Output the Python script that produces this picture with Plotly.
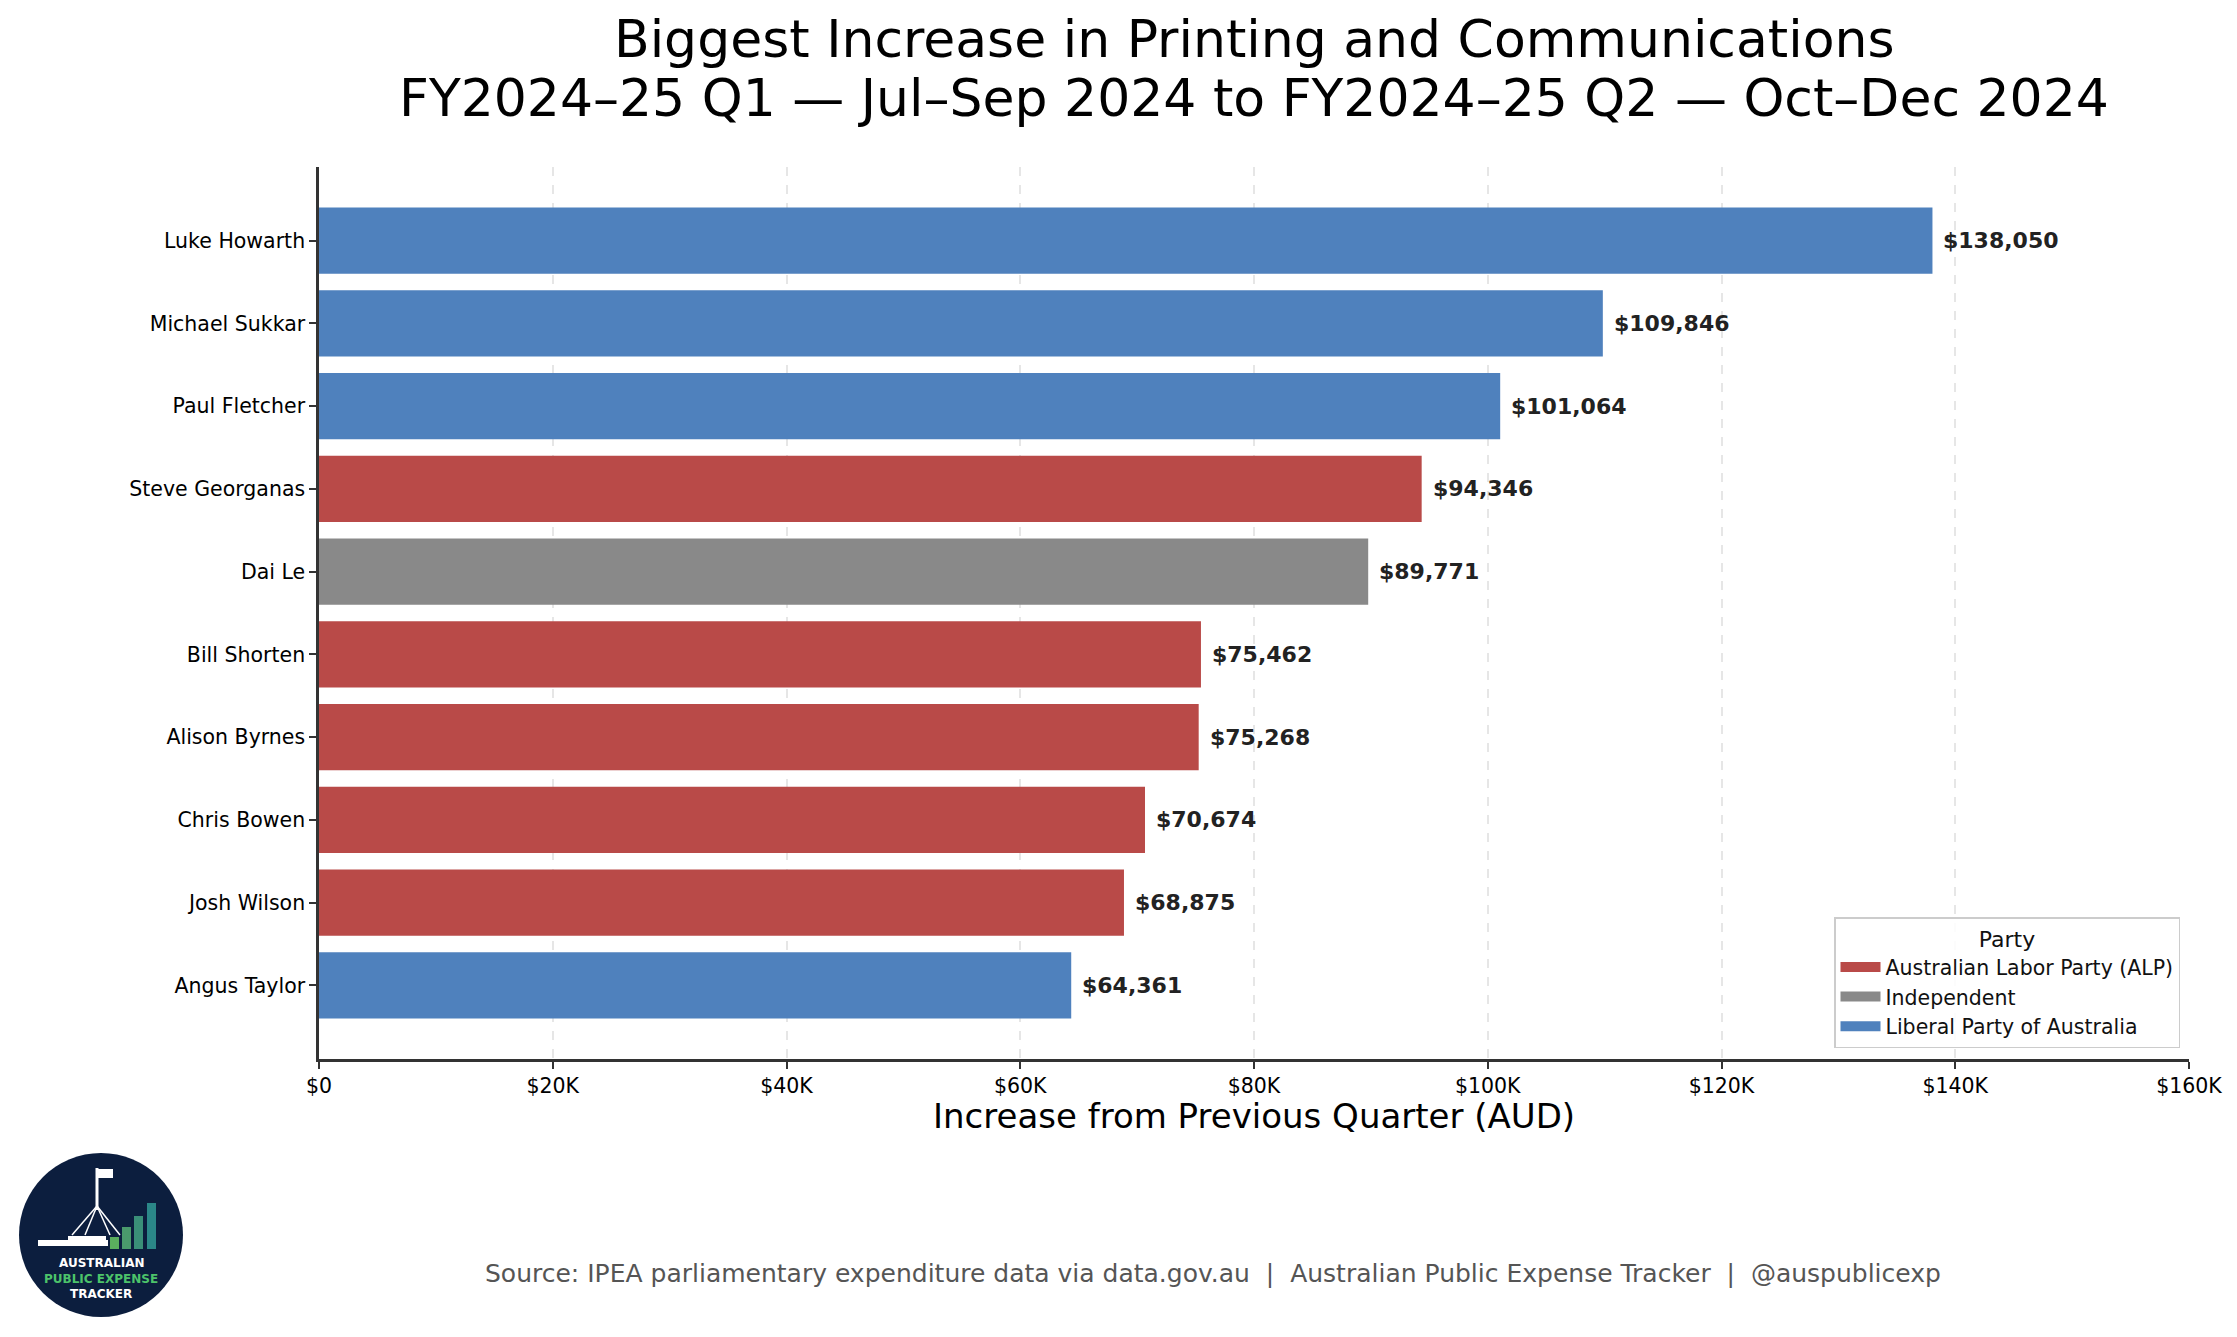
import plotly.graph_objects as go

# data
members = ["Luke Howarth", "Michael Sukkar", "Paul Fletcher", "Steve Georganas", "Dai Le",
           "Bill Shorten", "Alison Byrnes", "Chris Bowen", "Josh Wilson", "Angus Taylor"]
increases = [138050, 109846, 101064, 94346, 89771, 75462, 75268, 70674, 68875, 64361]
parties = ["Liberal Party of Australia", "Liberal Party of Australia", "Liberal Party of Australia",
           "Australian Labor Party (ALP)", "Independent", "Australian Labor Party (ALP)",
           "Australian Labor Party (ALP)", "Australian Labor Party (ALP)",
           "Australian Labor Party (ALP)", "Liberal Party of Australia"]
party_order = ["Australian Labor Party (ALP)", "Independent", "Liberal Party of Australia"]
party_colors = {"Australian Labor Party (ALP)": "#b94a48",
                "Independent": "#898989",
                "Liberal Party of Australia": "#4f81bd"}
tick_vals = [0, 20000, 40000, 60000, 80000, 100000, 120000, 140000, 160000]
tick_text = ["$0", "$20K", "$40K", "$60K", "$80K", "$100K", "$120K", "$140K", "$160K"]

# page body has an 8px margin, so the figure is shrunk by that much
OFF = 8
W, H = 2237 - OFF, 1337 - OFF
AX_L, AX_R, AX_T, AX_B = 319, 2189, 167, 1059   # plot area in window pixels
FONT = "DejaVu Sans"


def px(x):
    return (x - AX_L) / (AX_R - AX_L)


def py(y):
    return (AX_B - y) / (AX_B - AX_T)


fig = go.Figure()
for party in party_order:
    idx = [i for i, p in enumerate(parties) if p == party]
    fig.add_trace(go.Bar(
        y=[members[i] for i in idx],
        x=[increases[i] for i in idx],
        orientation="h",
        name=party,
        width=0.8,
        showlegend=False,
        marker=dict(color=party_colors[party], line=dict(width=0)),
        hovertemplate="%{y}: $%{x:,}<extra></extra>",
    ))
# legend swatches as thick line samples
for party in party_order:
    fig.add_trace(go.Scatter(
        x=[None], y=[None], mode="lines", name=party,
        line=dict(color=party_colors[party], width=14),
    ))

# value labels
for m, v in zip(members, increases):
    fig.add_annotation(
        x=v, y=m, text=f"<b>${v:,}</b>", showarrow=False,
        xanchor="left", yanchor="middle", xshift=9,
        font=dict(family=FONT, size=22, color="#222222"),
    )

fig.update_layout(
    width=W, height=H,
    margin=dict(l=AX_L - OFF, r=W - (AX_R - OFF), t=AX_T - OFF, b=H - (AX_B - OFF)),
    barmode="overlay",
    plot_bgcolor="white",
    paper_bgcolor="white",
    font=dict(family=FONT, color="black"),
    legend=dict(
        title=dict(text="Party", side="top center", font=dict(family=FONT, size=22)),
        x=px(2180), y=py(1048), xanchor="right", yanchor="bottom",
        bgcolor="rgba(255,255,255,0.85)",
        bordercolor="#cccccc", borderwidth=1.5,
        font=dict(family=FONT, size=20.5, color="#111111"),
        traceorder="normal", itemwidth=40,
    ),
)

fig.update_xaxes(
    range=[0, 160000],
    tickvals=tick_vals, ticktext=tick_text,
    tickfont=dict(family=FONT, size=20.5, color="black"),
    ticks="outside", ticklen=7, tickwidth=1.5, tickcolor="#333333",
    showline=True, linecolor="#333333", linewidth=2.5,
    showgrid=True, gridcolor="#e6e6e6", griddash="dash", gridwidth=1.5,
    zeroline=False,
)
fig.update_yaxes(
    categoryorder="array", categoryarray=members,
    autorange=False, range=[9.89, -0.89],
    tickfont=dict(family=FONT, size=20.5, color="black"),
    ticks="outside", ticklen=7, tickwidth=1.5, tickcolor="#333333",
    showline=True, linecolor="#333333", linewidth=2.5,
    showgrid=False, zeroline=False,
)

# title lines, x-axis title and footer
for txt, yy, size, col in [
    ("Biggest Increase in Printing and Communications", 39, 52, "black"),
    ("FY2024–25 Q1 — Jul–Sep 2024 to FY2024–25 Q2 — Oct–Dec 2024", 98, 52, "black"),
    ("Increase from Previous Quarter (AUD)", 1116, 34, "black"),
]:
    fig.add_annotation(text=txt, xref="paper", yref="paper", x=0.5, y=py(yy),
                       xanchor="center", yanchor="middle", showarrow=False, borderpad=0,
                       font=dict(family=FONT, size=size, color=col))
fig.add_annotation(
    text="Source: IPEA parliamentary expenditure data via data.gov.au  |  "
         "Australian Public Expense Tracker  |  @auspublicexp",
    xref="paper", yref="paper", x=px(1213), y=py(1273),
    xanchor="center", yanchor="middle", showarrow=False,
    font=dict(family=FONT, size=25, color="#555555"),
)

# logo badge (bottom left)
shapes = [
    dict(type="circle", xref="paper", yref="paper",
         x0=px(19), x1=px(183), y0=py(1153), y1=py(1317),
         fillcolor="#0c1e3e", line=dict(width=0)),
    # building
    dict(type="rect", xref="paper", yref="paper", x0=px(38), x1=px(108), y0=py(1246), y1=py(1240),
         fillcolor="white", line=dict(width=0)),
    dict(type="rect", xref="paper", yref="paper", x0=px(68), x1=px(106), y0=py(1240), y1=py(1236),
         fillcolor="white", line=dict(width=0)),
    # flagpole and flag
    dict(type="line", xref="paper", yref="paper", x0=px(97), x1=px(97), y0=py(1168), y1=py(1210),
         line=dict(color="white", width=3)),
    dict(type="rect", xref="paper", yref="paper", x0=px(98), x1=px(113), y0=py(1178), y1=py(1169),
         fillcolor="white", line=dict(width=0)),
]
for lx in [72, 85, 110, 120]:
    shapes.append(dict(type="line", xref="paper", yref="paper", x0=px(97), x1=px(lx),
                       y0=py(1206), y1=py(1235), line=dict(color="white", width=1.5)))
bar_cols = ["#5aae5e", "#4a9a6c", "#3a8f78", "#2b8788"]
bar_x = [110, 122, 134, 147]
bar_top = [1237, 1227, 1216, 1203]
for c, bx, bt in zip(bar_cols, bar_x, bar_top):
    shapes.append(dict(type="rect", xref="paper", yref="paper", x0=px(bx), x1=px(bx + 9),
                       y0=py(1249), y1=py(bt), fillcolor=c, line=dict(width=0)))
fig.update_layout(shapes=shapes)
for txt, yy, col in [("AUSTRALIAN", 1263, "white"), ("PUBLIC EXPENSE", 1279, "#4cc36a"),
                     ("TRACKER", 1294, "white")]:
    fig.add_annotation(text=f"<b>{txt}</b>", xref="paper", yref="paper", x=px(101), y=py(yy),
                       xanchor="center", yanchor="middle", showarrow=False,
                       font=dict(family=FONT, size=12, color=col))

fig.write_html("out.html")
